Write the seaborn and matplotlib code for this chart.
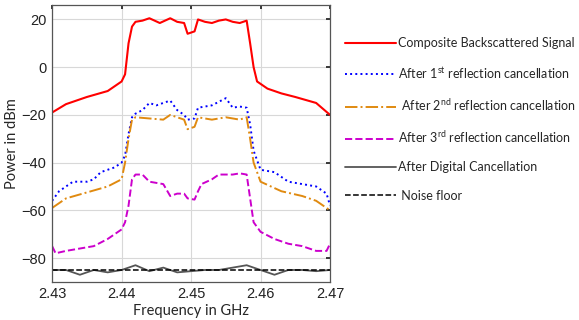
import matplotlib
matplotlib.use("Agg")
import matplotlib.pyplot as plt
import seaborn as sns

# frequency grid (GHz) for the composite signal
f_comp = [2.430, 2.432, 2.435, 2.438, 2.440, 2.4405, 2.441, 2.4415, 2.442, 2.443,
          2.444, 2.4455, 2.447, 2.448, 2.449, 2.4495, 2.4505, 2.451, 2.452, 2.453,
          2.454, 2.455, 2.456, 2.457, 2.458, 2.4585, 2.459, 2.4595, 2.461, 2.463,
          2.465, 2.468, 2.470]
p_comp = [-19, -15.5, -12.5, -10, -6, -3, 10, 17, 19, 19.5,
          20.5, 18.5, 20.5, 19, 18.5, 14, 15, 20, 19, 18.5,
          19.5, 20, 19, 18.5, 19.5, 10, 0, -6, -9, -11,
          -12.5, -15, -20]

f_first = [2.430, 2.431, 2.433, 2.435, 2.436, 2.437, 2.439, 2.440, 2.4405, 2.441,
           2.4415, 2.442, 2.443, 2.444, 2.445, 2.446, 2.447, 2.448, 2.449, 2.4495,
           2.4505, 2.451, 2.453, 2.455, 2.456, 2.457, 2.458, 2.4585, 2.459, 2.460,
           2.462, 2.464, 2.466, 2.468, 2.4695, 2.470]
p_first = [-56, -52, -48, -48, -47, -44, -42, -40, -37, -28,
           -21, -19.5, -18, -15, -16, -15, -14, -18, -20, -22,
           -21.5, -17, -16, -13, -17, -16.5, -17, -24, -35, -43,
           -44, -48, -49, -50, -53, -58]

f_second = [2.430, 2.432, 2.435, 2.438, 2.440, 2.4405, 2.441, 2.4415, 2.442, 2.444,
            2.446, 2.447, 2.449, 2.4495, 2.4505, 2.451, 2.453, 2.455, 2.457, 2.458,
            2.4585, 2.459, 2.460, 2.463, 2.466, 2.468, 2.470]
p_second = [-59, -55, -52.5, -50, -47, -40, -30, -22, -21, -21.5,
            -22, -20, -22, -26, -25, -21, -22, -21, -22, -21,
            -30, -40, -48, -52, -54, -56, -60]

f_third = [2.430, 2.4305, 2.432, 2.434, 2.436, 2.438, 2.440, 2.4405, 2.441, 2.4415,
           2.442, 2.443, 2.444, 2.446, 2.447, 2.448, 2.449, 2.4495, 2.4505, 2.451,
           2.4515, 2.453, 2.454, 2.456, 2.457, 2.458, 2.4585, 2.459, 2.460, 2.462,
           2.464, 2.466, 2.468, 2.4695, 2.470]
p_third = [-75, -78, -77, -76, -75, -72, -68, -65, -58, -47,
           -45, -45, -48, -49, -54, -53, -53, -55, -55.5, -52,
           -49, -47, -45, -45, -44.5, -45, -55, -65, -69, -72,
           -74, -75, -77, -77, -74]

f_digital = [2.430, 2.432, 2.434, 2.436, 2.438, 2.440, 2.442, 2.444, 2.446, 2.448,
             2.450, 2.452, 2.454, 2.456, 2.458, 2.460, 2.462, 2.464, 2.466, 2.468,
             2.470]
p_digital = [-85, -85, -87, -85, -86, -85, -83, -85.5, -84, -86,
             -85.5, -85, -85, -84, -83, -85, -87, -85, -85, -85.5,
             -85]

f_noise = [2.430, 2.470]
p_noise = [-85, -85]

labels = [
    "Composite Backscattered Signal",
    "After 1$^{\\mathrm{st}}$ reflection cancellation",
    " After 2$^{\\mathrm{nd}}$ reflection cancellation",
    "After 3$^{\\mathrm{rd}}$ reflection cancellation",
    "After Digital Cancellation",
    " Noise floor",
]
colors = ["#ff0000", "#0000ff", "#e08a10", "#cc00cc", "#555555", "#000000"]
styles = ["-", ":", "-.", "--", "-", "--"]
widths = [1.5, 1.4, 1.4, 1.4, 1.3, 1.1]


def main() -> None:
    sns.set_theme(style="whitegrid")
    plt.rcParams["font.family"] = ["Lato", "DejaVu Sans"]
    plt.rcParams["mathtext.fontset"] = "custom"
    plt.rcParams["mathtext.rm"] = "Lato"

    fig = plt.figure(figsize=(5.79, 3.2), dpi=100)
    ax = fig.add_axes([0.09, 0.119, 0.48, 0.865])

    series = [(f_comp, p_comp), (f_first, p_first), (f_second, p_second),
              (f_third, p_third), (f_digital, p_digital), (f_noise, p_noise)]
    for (f, p), lab, c, ls, lw in zip(series, labels, colors, styles, widths):
        sns.lineplot(x=f, y=p, ax=ax, color=c, linestyle=ls, linewidth=lw, label=lab)

    ax.set_xlim(2.43, 2.47)
    ax.set_ylim(-90, 26)
    ax.set_xticks([2.43, 2.44, 2.45, 2.46, 2.47])
    ax.set_xticklabels(["2.43", "2.44", "2.45", "2.46", "2.47"])
    ax.set_yticks([20, 0, -20, -40, -60, -80])
    ax.tick_params(axis="both", labelsize=10.5, direction="in", length=3,
                   top=True, right=True, pad=4, colors="#222222")
    for lab in ax.get_xticklabels() + ax.get_yticklabels():
        lab.set_fontfamily(["Liberation Sans", "DejaVu Sans"])
    ax.grid(color="#d8d8d8", linewidth=0.8)
    for sp in ax.spines.values():
        sp.set_color("#555555")
        sp.set_linewidth(0.9)
    ax.set_xlabel("Frequency in GHz", fontsize=10.5, labelpad=2)
    ax.set_ylabel("Power in dBm", fontsize=10.5, labelpad=2)

    handles, labs = ax.get_legend_handles_labels()
    ax.get_legend().remove()
    fig.legend(handles, labs, loc="upper left", bbox_to_anchor=(0.587, 0.9),
               frameon=False, fontsize=9, handlelength=4.1, handletextpad=0.15,
               labelspacing=1.3, borderaxespad=0)

    fig.savefig("out.png", dpi=100)
    plt.close(fig)


if __name__ == "__main__":
    main()
